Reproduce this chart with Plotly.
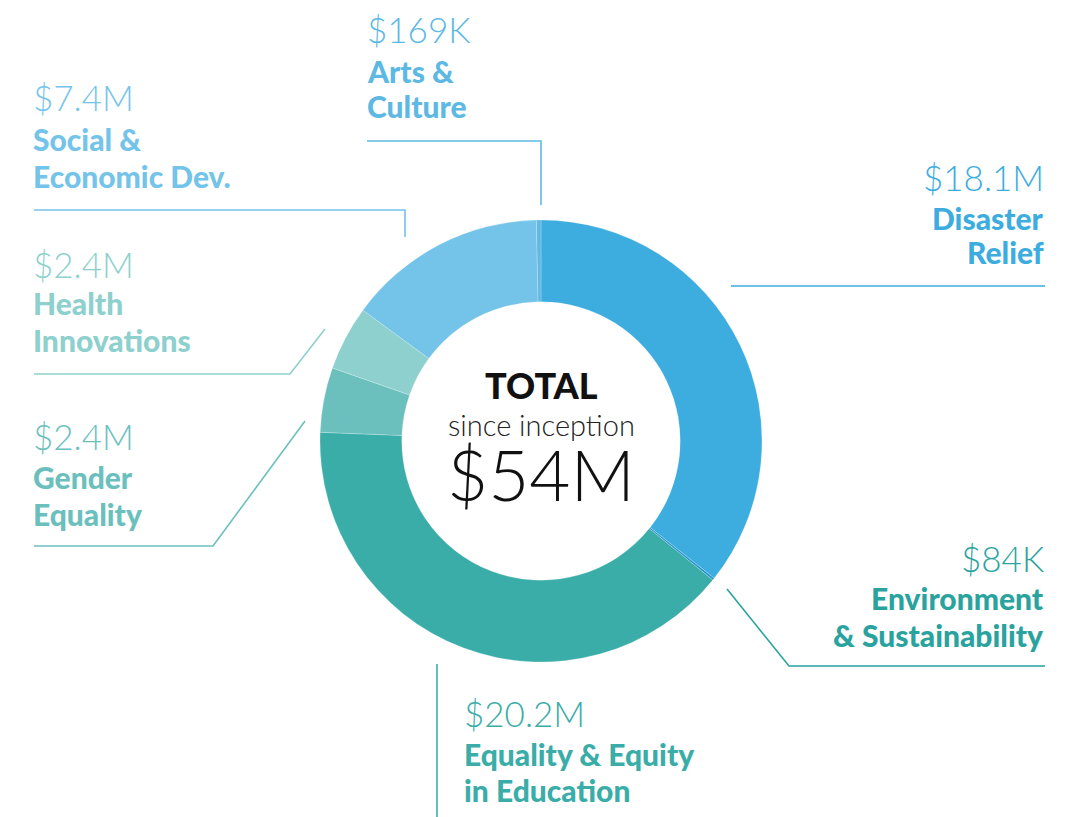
import plotly.graph_objects as go

W, H = 1084, 817

# ---- data ----
categories = ["Disaster Relief", "Environment & Sustainability", "Equality & Equity in Education",
              "Gender Equality", "Health Innovations", "Social & Economic Dev.", "Arts & Culture"]
values_musd = [18.1, 0.084, 20.2, 2.4, 2.4, 7.4, 0.169]
value_labels = ["$18.1M", "$84K", "$20.2M", "$2.4M", "$2.4M", "$7.4M", "$169K"]
name_lines = [["Disaster", "Relief"], ["Environment", "& Sustainability"], ["Equality & Equity", "in Education"],
              ["Gender", "Equality"], ["Health", "Innovations"], ["Social &", "Economic Dev."], ["Arts &", "Culture"]]
slice_colors = ["#3DADE0", "#2796CF", "#3BADA9", "#6BC0BE", "#8DD0CD", "#74C4E9", "#62B8E2"]
text_colors = ["#3DADE0", "#2AA39F", "#3AADA9", "#6BC0BE", "#8DD0CD", "#74C4E9", "#5DB9E3"]
total_label = "$54M"

# ---- layout helpers (pixel -> paper) ----
def px(x):
    return x / W

def py(y):
    return 1 - y / H

cx, cy, R = 541, 441, 221

fig = go.Figure()
fig.add_trace(go.Pie(
    labels=categories, values=values_musd, sort=False, direction="clockwise", rotation=0,
    hole=0.63, textinfo="none", hoverinfo="label+value",
    marker=dict(colors=slice_colors, line=dict(color="rgba(255,255,255,0.35)", width=0.6)),
    domain=dict(x=[px(cx - R), px(cx + R)], y=[py(cy + R), py(cy - R)]),
    showlegend=False,
))

# label positions: (x, anchor, value_y, line1_y, line2_y)
label_pos = [
    (1046, "right", 177, 218, 252),
    (1046, "right", 558, 598, 635),
    (462, "left", 713, 754, 790),
    (31, "left", 436, 477, 514),
    (31, "left", 264, 303, 340),
    (31, "left", 97, 139, 176),
    (365, "left", 29, 71, 106),
]

VAL_FONT = "Lato"
BOLD_FONT = "Lato"
annotations = []
for i, (x, anc, vy, l1, l2) in enumerate(label_pos):
    col = text_colors[i]
    annotations.append(dict(x=px(x), y=py(vy), xref="paper", yref="paper", xanchor=anc, yanchor="middle",
                            text=value_labels[i], showarrow=False,
                            font=dict(family=VAL_FONT, size=35, color=col, weight=300)))
    for ly, t in zip((l1, l2), name_lines[i]):
        annotations.append(dict(x=px(x), y=py(ly), xref="paper", yref="paper", xanchor=anc, yanchor="middle",
                                text=t, showarrow=False,
                                font=dict(family=BOLD_FONT, size=30, color=col, weight=900)))

# centre text
annotations += [
    dict(x=px(cx), y=py(385), xref="paper", yref="paper", text="TOTAL", showarrow=False,
         font=dict(family="Lato", size=36, color="#111111", weight=900), yanchor="middle"),
    dict(x=px(cx), y=py(424), xref="paper", yref="paper", text="since inception", showarrow=False,
         font=dict(family="Lato", size=29, color="#222222", weight=300), yanchor="middle"),
    dict(x=px(cx), y=py(473), xref="paper", yref="paper", text=total_label, showarrow=False,
         font=dict(family="Lato", size=71, color="#111111", weight=300), yanchor="middle"),
]

# leader lines (pixel polylines)
leaders = [
    ([(731, 286), (1045, 286)], text_colors[0]),
    ([(727, 589), (789, 666), (1045, 666)], text_colors[1]),
    ([(437, 664), (437, 817)], text_colors[2]),
    ([(305, 421), (213, 546), (34, 546)], text_colors[3]),
    ([(325, 329), (290, 374), (34, 374)], text_colors[4]),
    ([(405, 237), (405, 210), (34, 210)], text_colors[5]),
    ([(541, 205), (541, 141), (367, 141)], text_colors[6]),
]
shapes = []
for pts, col in leaders:
    path = "M " + " L ".join(f"{px(x)},{py(y)}" for x, y in pts)
    shapes.append(dict(type="path", path=path, xref="paper", yref="paper",
                       line=dict(color=col, width=1.6)))

fig.update_layout(
    width=W, height=H, margin=dict(l=0, r=0, t=0, b=0),
    paper_bgcolor="white", plot_bgcolor="white",
    annotations=annotations, shapes=shapes,
)

fig.write_html("out.html", config={"displayModeBar": False})

# remove the default page margin so the figure sits at the window's top-left corner
with open("out.html", encoding="utf-8") as f:
    html = f.read()
html = html.replace("<head>", "<head><style>html,body{margin:0;padding:0;overflow:hidden;}</style>", 1)
with open("out.html", "w", encoding="utf-8") as f:
    f.write(html)
